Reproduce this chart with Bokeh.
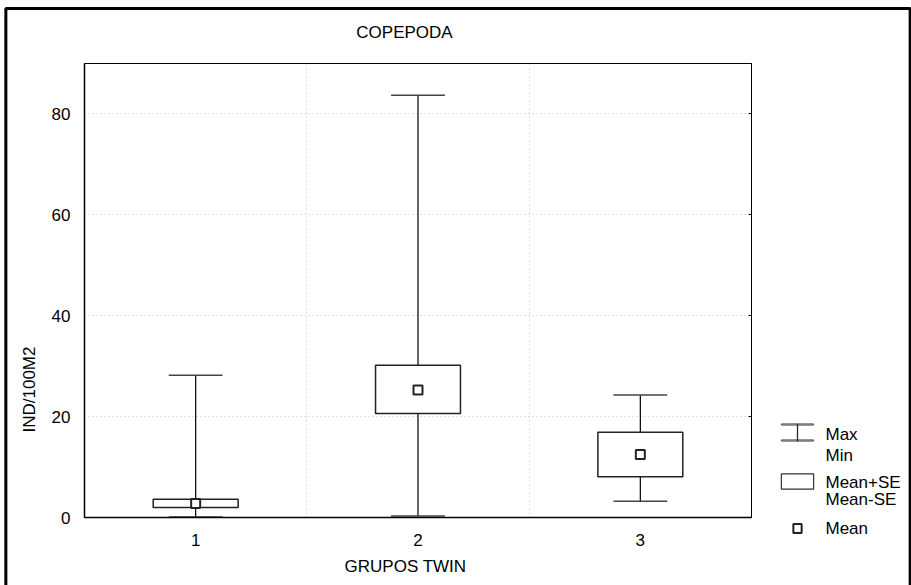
import math
from bokeh.plotting import figure
from bokeh.models import (Range1d, FixedTicker, LinearAxis, Label, ColumnDataSource, Grid)
from bokeh.embed import file_html
from bokeh.resources import INLINE

# ---- data ----
groups = [1, 2, 3]
means = [2.8, 25.3, 12.5]
se_hi = [3.6, 30.2, 16.9]
se_lo = [2.0, 20.6, 8.1]
maxs = [28.2, 83.7, 24.3]
mins = [0.1, 0.3, 3.2]
y_ticks = [0, 20, 40, 60, 80]
title_text = "COPEPODA"
x_title = "GRUPOS TWIN"
y_title = "IND/100M2"
legend_labels = ["Max", "Min", "Mean+SE", "Mean-SE", "Mean"]

FONT = "Liberation Sans"
FS = "17px"

box_half = 0.191
cap_half = 0.121

src = ColumnDataSource(dict(
    g=groups, mean=means, hi=se_hi, lo=se_lo, mx=maxs, mn=mins,
    bl=[g - box_half for g in groups], br=[g + box_half for g in groups],
    cl=[g - cap_half for g in groups], cr=[g + cap_half for g in groups],
))

p = figure(width=911, height=585, output_backend="svg", toolbar_location=None,
           x_range=Range1d(0.5, 3.5), y_range=Range1d(0, 90),
           frame_width=667, frame_height=454,
           min_border_left=84, min_border_right=160, min_border_top=63,
           min_border_bottom=68, x_axis_type=None, y_axis_type=None)
p.background_fill_color = "white"
p.border_fill_color = "white"
p.outline_line_color = "black"
p.outline_line_width = 1

# grids
gx = Grid(dimension=0, ticker=FixedTicker(ticks=[1.5, 2.5]))
gy = Grid(dimension=1, ticker=FixedTicker(ticks=y_ticks[1:]))
for gr in (gx, gy):
    gr.grid_line_color = "#c4c4c4"
    gr.grid_line_dash = "1 3"
    gr.grid_line_width = 1
    p.add_layout(gr, "center")

# axes
xa = LinearAxis(ticker=FixedTicker(ticks=groups))
xa.major_tick_line_color = None
xa.minor_tick_line_color = None
xa.axis_line_color = "black"
xa.axis_line_width = 1.5
xa.major_label_text_font = FONT
xa.major_label_text_font_size = FS
xa.major_label_text_color = "black"
xa.major_label_standoff = 10
p.add_layout(xa, "below")

ya = LinearAxis(ticker=FixedTicker(ticks=y_ticks))
ya.major_tick_line_color = None
ya.minor_tick_line_color = None
ya.axis_line_color = "black"
ya.axis_line_width = 1.5
ya.major_label_text_font = FONT
ya.major_label_text_font_size = FS
ya.major_label_text_color = "black"
ya.major_label_standoff = 8
p.add_layout(ya, "left")

ra = LinearAxis(ticker=FixedTicker(ticks=y_ticks[1:]))
ra.major_tick_in = 3
ra.major_tick_out = 0
ra.minor_tick_line_color = None
ra.axis_line_color = "black"
ra.major_label_text_alpha = 0
ra.major_label_text_font_size = "1px"
p.add_layout(ra, "right")

# whiskers
p.segment(x0="g", y0="mn", x1="g", y1="mx", source=src, line_color="black", line_width=1.2)
p.segment(x0="cl", y0="mx", x1="cr", y1="mx", source=src, line_color="#444444", line_width=1.5)
p.segment(x0="cl", y0="mn", x1="cr", y1="mn", source=src, line_color="#444444", line_width=1.5)
# boxes
p.quad(left="bl", right="br", bottom="lo", top="hi", source=src,
       fill_color="white", line_color="#222222", line_width=1.5)
# mean
p.scatter(x="g", y="mean", source=src, marker="square", size=9,
          fill_color="white", line_color="#222222", line_width=2)

# ---- page texts and legend (canvas pixels, placed in a side panel so they are not clipped) ----
U = "canvas"
SIDE = "right"

def lab(x, y, t, **kw):
    L = Label(x=x, y=y, x_units=U, y_units=U, text=t,
              text_font=FONT, text_font_size=FS, text_color="black",
              text_baseline="middle", **kw)
    p.add_layout(L, SIDE)
    return L

def rect(l, t, r, b, color="#333333", width=1, fill=None):
    hw = int(round((r - l) / 2))
    hh = int(round((b - t) / 2))
    L = Label(x=(l + r) / 2, y=(t + b) / 2, x_units=U, y_units=U, text=" ",
              text_font_size="1px", text_align="center", text_baseline="middle",
              padding=(hw, hw, hh, hh), border_line_color=color,
              border_line_width=width, background_fill_color=fill)
    p.add_layout(L, SIDE)
    return L

lab(404, 32, title_text, text_align="center")
lab(405, 566, x_title, text_align="center")
lab(29, 389, y_title, text_align="center", angle=math.pi / 2)

# legend symbols
rect(781, 424, 813, 424, color="#444444")        # max cap
rect(781, 440, 813, 440, color="#444444")        # min cap
rect(797, 424, 797, 440, color="#222222")        # stem
rect(781, 474, 813, 488, color="#333333", width=1.2, fill="white")   # SE box
rect(793, 524, 801, 532, color="#222222", width=2, fill="white")     # mean

lx = 825
lab(lx, 434, legend_labels[0], text_align="left")
lab(lx, 455, legend_labels[1], text_align="left")
lab(lx, 482, legend_labels[2], text_align="left")
lab(lx, 499, legend_labels[3], text_align="left")
lab(lx, 528, legend_labels[4], text_align="left")

# outer page frame
rect(6, 9, 909, 700, color="black", width=3)

open("out.html", "w").write(file_html(p, INLINE))
